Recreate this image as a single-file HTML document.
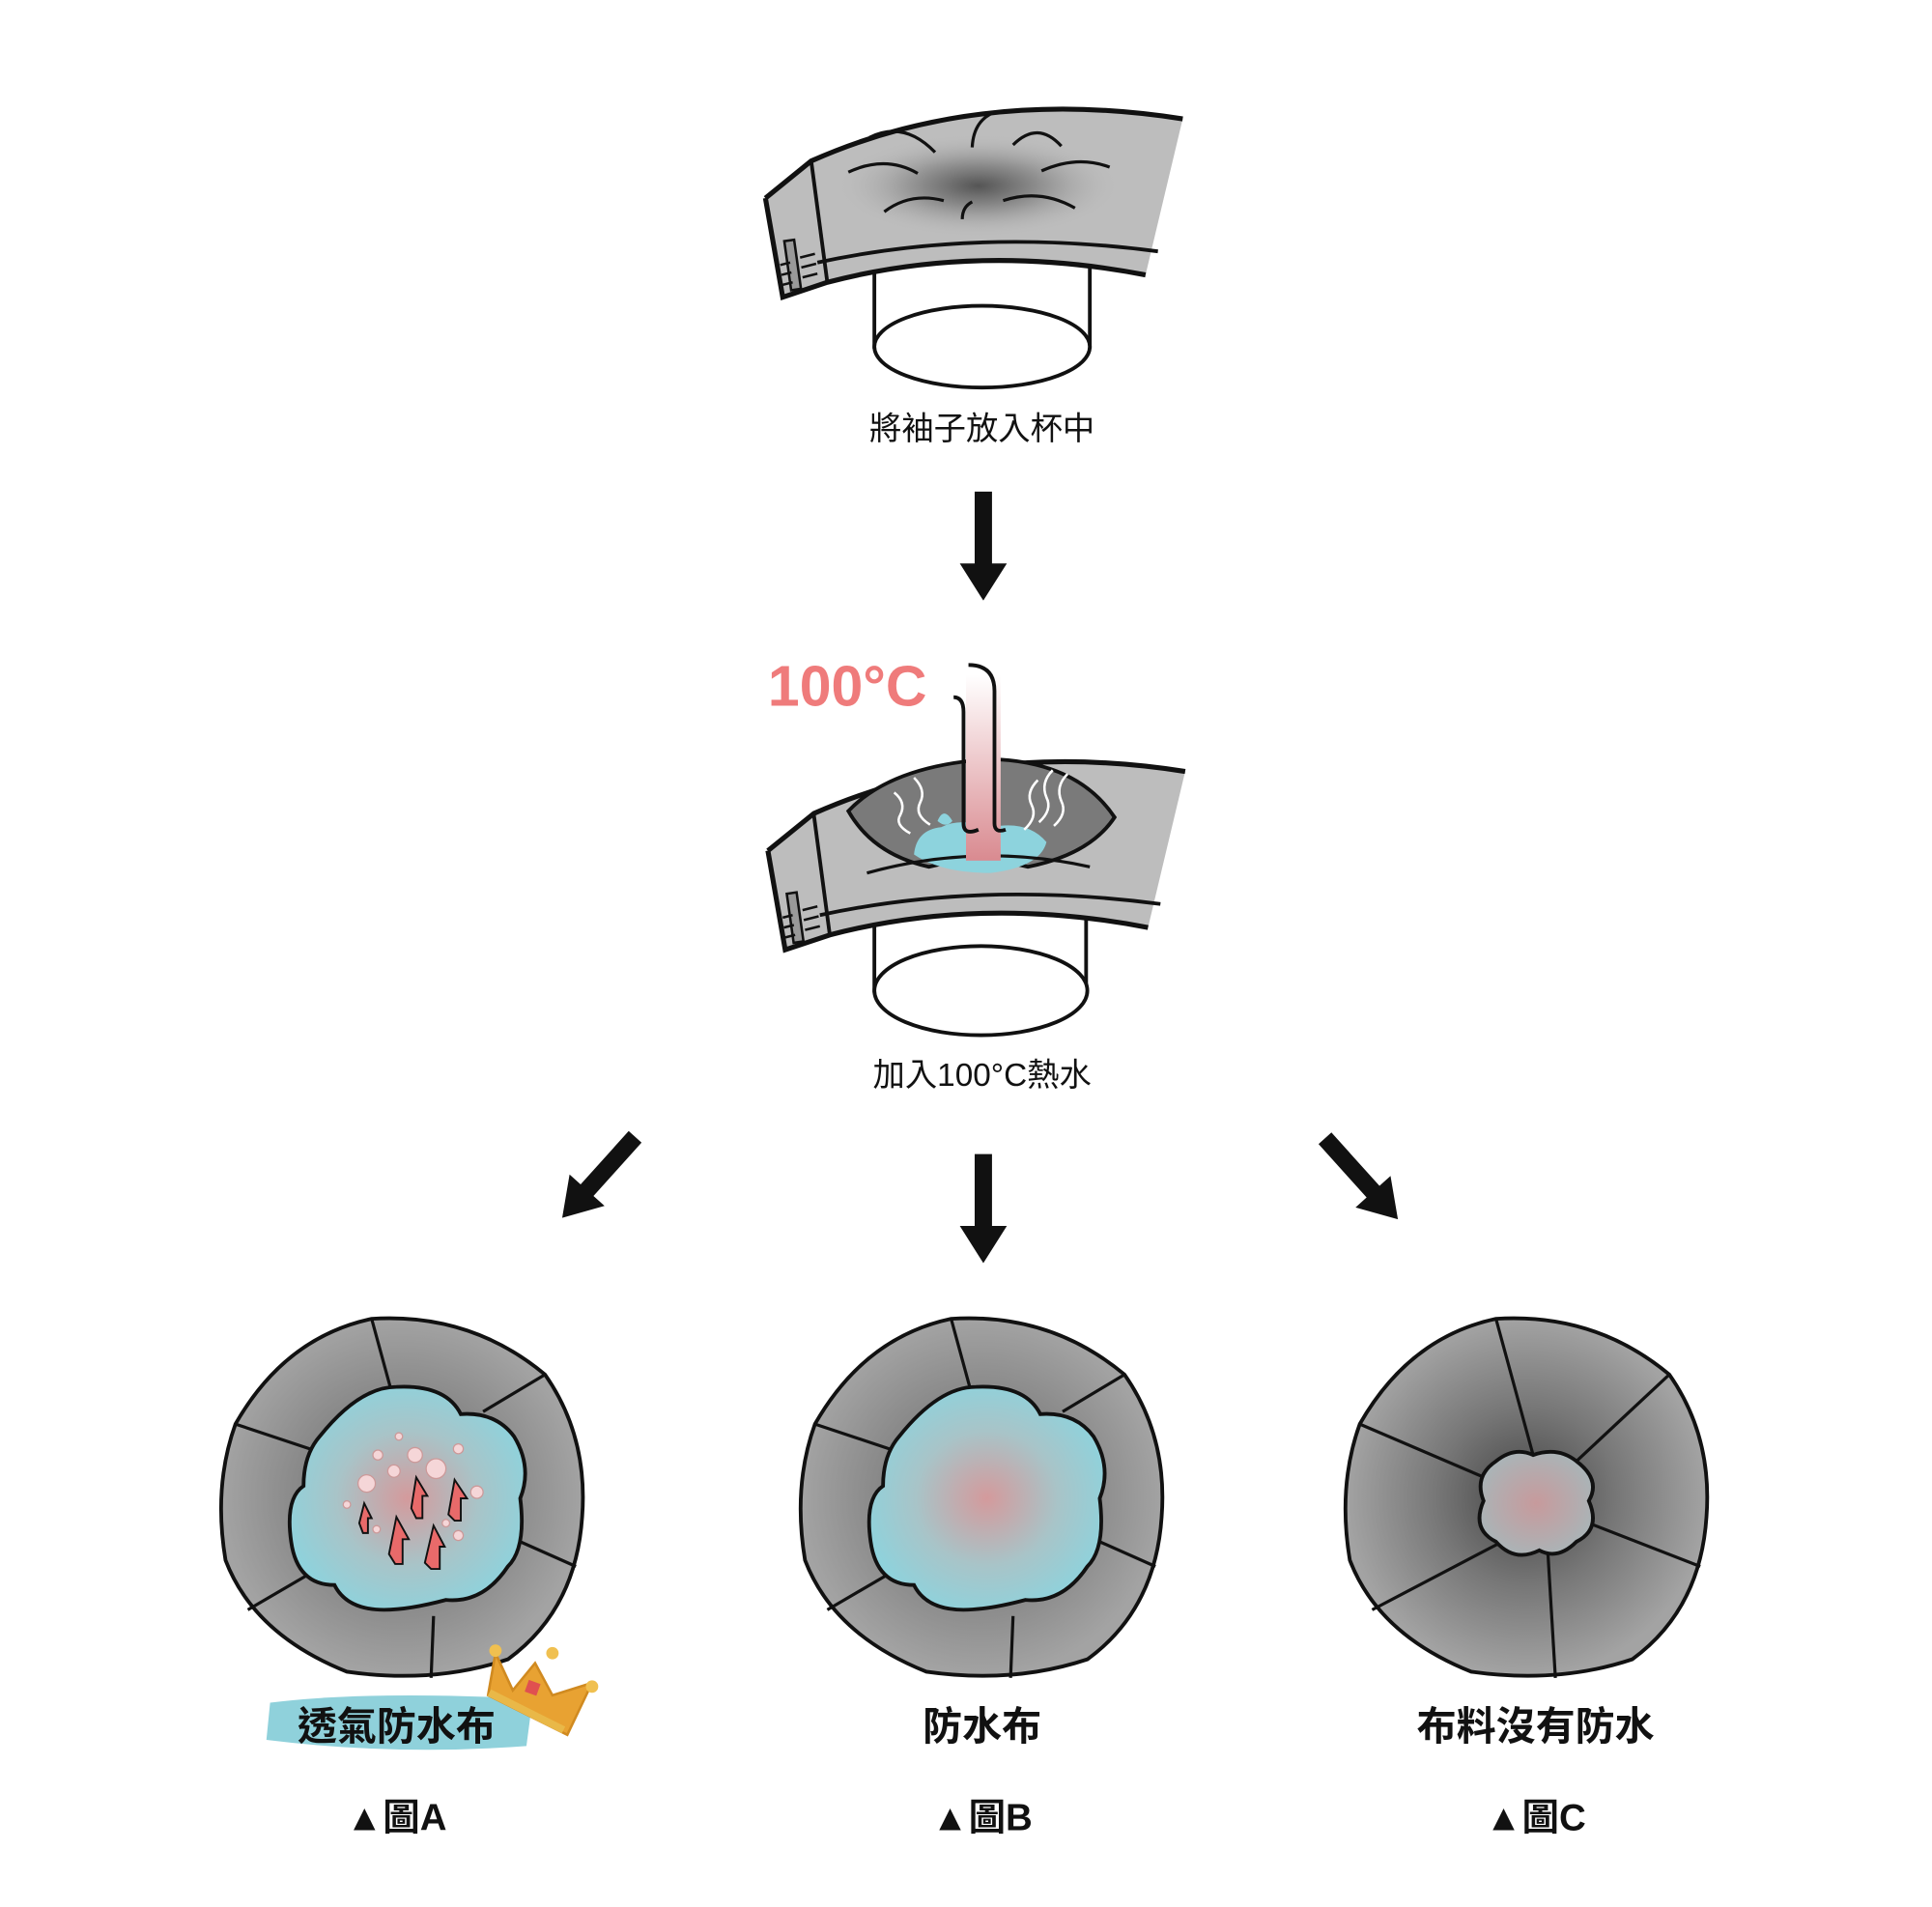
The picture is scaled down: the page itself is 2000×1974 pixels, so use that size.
<!DOCTYPE html>
<html><head><meta charset="utf-8"><style>
html,body{margin:0;padding:0;background:#fff;}
svg{display:block;}
text{font-family:"Liberation Sans","Noto Sans CJK TC",sans-serif;}
</style></head><body>
<svg width="2000" height="1974" viewBox="0 0 1560 1540" xmlns="http://www.w3.org/2000/svg">
<defs>
<radialGradient id="dark1" cx="0.5" cy="0.5" r="0.5">
<stop offset="0" stop-color="#555"/><stop offset="0.5" stop-color="#999"/><stop offset="1" stop-color="#bdbdbd" stop-opacity="0"/></radialGradient>
<linearGradient id="steam" x1="0" y1="0" x2="0" y2="1"><stop offset="0" stop-color="#fff"/><stop offset="1" stop-color="#d98a90"/></linearGradient>
<radialGradient id="pool" cx="0.5" cy="0.5" r="0.55"><stop offset="0" stop-color="#d49a9c"/><stop offset="0.55" stop-color="#a8c4c8"/><stop offset="1" stop-color="#8dd3dd"/></radialGradient>
<radialGradient id="poolC" cx="0.5" cy="0.5" r="0.55"><stop offset="0" stop-color="#c79a9c"/><stop offset="1" stop-color="#a9b5b8"/></radialGradient>
<radialGradient id="fab" cx="0.5" cy="0.5" r="0.5"><stop offset="0.3" stop-color="#777"/><stop offset="1" stop-color="#a3a3a3"/></radialGradient>
<radialGradient id="fabC" cx="0.5" cy="0.5" r="0.5"><stop offset="0" stop-color="#444"/><stop offset="0.5" stop-color="#777"/><stop offset="1" stop-color="#a3a3a3"/></radialGradient>
<g id="cuff">
<path d="M655,130 Q790,70 955,96 L925,222 Q790,196 668,228 Z" fill="#bdbdbd"/>
<path d="M618,160 L655,130 L668,228 L632,240 Z" fill="#bdbdbd"/>
<path d="M618,160 L655,130 Q790,70 955,96" fill="none" stroke="#111" stroke-width="4"/>
<path d="M618,160 L632,240 L668,228 Q790,196 925,222" fill="none" stroke="#111" stroke-width="4"/>
<path d="M655,130 L668,228" stroke="#111" stroke-width="3" fill="none"/>
<path d="M660,212 Q790,184 935,203" stroke="#111" stroke-width="3" fill="none"/>
<rect x="636" y="194" width="8" height="40" fill="#999" stroke="#111" stroke-width="2" transform="rotate(-8 640 214)"/>
<path d="M630,214 l8,-2 M631,222 l8,-2 M632,230 l8,-2 M646,208 l12,-3 M647,216 l12,-3 M648,224 l12,-3" stroke="#111" stroke-width="2"/>
</g>
</defs>

<!-- step 1 -->
<rect x="706" y="195" width="174" height="85" fill="#fff" stroke="#111" stroke-width="3"/>
<ellipse cx="793" cy="280" rx="87" ry="33" fill="#fff" stroke="#111" stroke-width="3"/>
<use href="#cuff"/>
<ellipse cx="790" cy="150" rx="115" ry="42" fill="url(#dark1)"/>
<g stroke="#111" stroke-width="2.5" fill="none">
<path d="M702,111 Q730,97 755,123"/><path d="M785,119 Q786,98 802,91"/><path d="M818,117 Q838,97 857,118"/>
<path d="M685,139 Q715,125 741,140"/><path d="M841,138 Q870,125 896,135"/>
<path d="M714,171 Q735,155 762,162"/><path d="M777,177 Q777,167 785,163"/><path d="M810,162 Q840,152 868,168"/>
</g>
<text x="793" y="355" font-size="26" text-anchor="middle" fill="#111">將袖子放入杯中</text>

<!-- arrow 1 -->
<path d="M787,397 h14 v58 h12 l-19,30 l-19,-30 h12 z" fill="#111"/>

<!-- step 2 -->
<rect x="706" y="730" width="171" height="70" fill="#fff" stroke="#111" stroke-width="3"/>
<ellipse cx="792" cy="800" rx="86" ry="36" fill="#fff" stroke="#111" stroke-width="3"/>
<use href="#cuff" transform="translate(2,527)"/>
<path d="M685,655 Q720,618 800,613 Q870,615 900,660 Q880,690 830,700 Q790,690 750,700 Q705,690 685,655Z" fill="#7a7a7a" stroke="#111" stroke-width="3"/>
<path d="M738,690 Q740,670 760,668 Q775,660 800,668 Q830,662 845,680 Q840,700 800,705 Q760,705 738,690Z" fill="#8dd3dd"/>
<path d="M757,663 q5,-12 12,0 q-5,6 -12,0z" fill="#8dd3dd"/>
<g stroke="#fff" stroke-width="2" fill="none"><path d="M722,640 q10,8 5,18 q-5,8 8,15"/><path d="M738,628 q10,10 5,20 q-5,10 8,18"/><path d="M838,630 q-10,10 -5,20 q5,10 -6,20"/><path d="M850,622 q-10,10 -5,22 q5,10 -6,20"/><path d="M862,625 q-10,10 -5,22 q5,10 -6,20"/></g>
<path d="M700,705 Q790,680 880,700" stroke="#111" stroke-width="2.5" fill="none"/>
<rect x="780" y="545" width="28" height="150" fill="url(#steam)"/>
<path d="M770,563 Q778,563 778,575 L778,665 Q778,675 790,670" stroke="#111" stroke-width="3" fill="none"/>
<path d="M782,537 Q803,537 803,558 L803,665 Q803,673 812,670" stroke="#111" stroke-width="3" fill="none"/>
<text x="620" y="570" font-size="46" font-weight="bold" fill="#ef7b7b">100°C</text>
<text x="793" y="877" font-size="26" text-anchor="middle" fill="#111">加入100°C熱水</text>

<!-- three arrows -->
<path d="M787,932 h14 v58 h12 l-19,30 l-19,-30 h12 z" fill="#111"/>
<path d="M787,932 h14 v58 h12 l-19,30 l-19,-30 h12 z" fill="#111" transform="rotate(42 484 950) translate(-310,-25)"/>
<path d="M787,932 h14 v58 h12 l-19,30 l-19,-30 h12 z" fill="#111" transform="rotate(-42 1103 950) translate(305,-27)"/>

<!-- circle A -->
<g>
<path d="M190,1150 Q230,1080 300,1065 Q380,1060 440,1110 Q475,1160 470,1225 Q465,1300 410,1340 Q350,1360 280,1350 Q205,1320 182,1260 Q172,1200 190,1150Z" fill="url(#fab)" stroke="#111" stroke-width="3"/>
<g stroke="#111" stroke-width="2.5" fill="none"><path d="M300,1065 L315,1120"/><path d="M440,1110 L390,1140"/><path d="M190,1150 L250,1170"/><path d="M200,1300 L260,1265"/><path d="M348,1355 L350,1305"/><path d="M465,1265 L420,1245"/></g>
<path d="M258,1160 Q290,1120 320,1120 Q360,1118 372,1142 Q400,1140 415,1160 Q430,1185 420,1210 Q425,1250 410,1265 Q390,1295 360,1292 Q330,1300 310,1300 Q280,1300 270,1280 Q240,1280 235,1245 Q230,1210 245,1200 Q245,1175 258,1160Z" fill="url(#pool)" stroke="#111" stroke-width="3"/>
<g fill="#f5d6d8" stroke="#c99" stroke-width="1"><circle cx="296" cy="1198" r="7"/><circle cx="335" cy="1175" r="6"/><circle cx="352" cy="1186" r="8"/><circle cx="305" cy="1175" r="4"/><circle cx="318" cy="1188" r="5"/><circle cx="370" cy="1170" r="4"/><circle cx="385" cy="1205" r="5"/><circle cx="322" cy="1160" r="3"/><circle cx="280" cy="1215" r="3"/><circle cx="304" cy="1235" r="3"/><circle cx="370" cy="1240" r="4"/><circle cx="335" cy="1215" r="3"/><circle cx="360" cy="1230" r="3"/></g>
<g fill="#e86a6a" stroke="#111" stroke-width="1.5"><path d="M290,1230 l4,-16 l6,12 h-3 v12 h-4 z"/><path d="M314,1255 l6,-30 l10,18 h-5 v20 h-6 z"/><path d="M332,1218 l4,-25 l9,15 h-4 v18 h-5 z"/><path d="M343,1262 l7,-30 l9,17 h-4 v18 h-7 z"/><path d="M362,1223 l5,-28 l10,15 h-5 v18 h-5 z"/></g>
</g>
<!-- banner A -->
<path d="M218,1375 Q300,1365 430,1372 L425,1410 Q320,1418 215,1405 Z" fill="#8fd1db"/>
<text x="320" y="1405" font-size="32" font-weight="bold" text-anchor="middle" fill="#111">透氣防水布</text>
<path d="M400,1335 l14,30 l18,-22 l14,26 l32,-10 l-20,42 l-64,-32 z" fill="#e8a232" stroke="#d08a20" stroke-width="2"/>
<path d="M395,1367 l60,30" stroke="#e9b848" stroke-width="6"/>
<circle cx="400" cy="1333" r="5" fill="#f0c050"/><circle cx="446" cy="1335" r="5" fill="#f0c050"/><circle cx="478" cy="1362" r="5" fill="#f0c050"/>
<rect x="425" y="1358" width="10" height="10" fill="#e05050" transform="rotate(20 430 1363)"/>
<text x="320" y="1478" font-size="30" font-weight="bold" text-anchor="middle" fill="#111">▲圖A</text>

<!-- circle B -->
<g transform="translate(468,0)">
<path d="M190,1150 Q230,1080 300,1065 Q380,1060 440,1110 Q475,1160 470,1225 Q465,1300 410,1340 Q350,1360 280,1350 Q205,1320 182,1260 Q172,1200 190,1150Z" fill="url(#fab)" stroke="#111" stroke-width="3"/>
<g stroke="#111" stroke-width="2.5" fill="none"><path d="M300,1065 L315,1120"/><path d="M440,1110 L390,1140"/><path d="M190,1150 L250,1170"/><path d="M200,1300 L260,1265"/><path d="M348,1355 L350,1305"/><path d="M465,1265 L420,1245"/></g>
<path d="M258,1160 Q290,1120 320,1120 Q360,1118 372,1142 Q400,1140 415,1160 Q430,1185 420,1210 Q425,1250 410,1265 Q390,1295 360,1292 Q330,1300 310,1300 Q280,1300 270,1280 Q240,1280 235,1245 Q230,1210 245,1200 Q245,1175 258,1160Z" fill="url(#pool)" stroke="#111" stroke-width="3"/>
</g>
<text x="793" y="1405" font-size="32" font-weight="bold" text-anchor="middle" fill="#111">防水布</text>
<text x="793" y="1478" font-size="30" font-weight="bold" text-anchor="middle" fill="#111">▲圖B</text>

<!-- circle C -->
<g transform="translate(908,0)">
<path d="M190,1150 Q230,1080 300,1065 Q380,1060 440,1110 Q475,1160 470,1225 Q465,1300 410,1340 Q350,1360 280,1350 Q205,1320 182,1260 Q172,1200 190,1150Z" fill="url(#fabC)" stroke="#111" stroke-width="3"/>
<g stroke="#111" stroke-width="2.5" fill="none"><path d="M300,1065 L330,1175"/><path d="M440,1110 L365,1180"/><path d="M190,1150 L295,1195"/><path d="M200,1300 L305,1245"/><path d="M348,1355 L342,1255"/><path d="M465,1265 L375,1230"/></g>
<path d="M300,1180 Q315,1168 330,1175 Q350,1168 365,1180 Q385,1195 375,1212 Q385,1235 365,1245 Q350,1260 335,1252 Q315,1262 300,1245 Q280,1235 290,1212 Q282,1192 300,1180Z" fill="url(#poolC)" stroke="#111" stroke-width="3"/>
</g>
<text x="1240" y="1405" font-size="32" font-weight="bold" text-anchor="middle" fill="#111">布料沒有防水</text>
<text x="1240" y="1478" font-size="30" font-weight="bold" text-anchor="middle" fill="#111">▲圖C</text>
</svg>
</body></html>
